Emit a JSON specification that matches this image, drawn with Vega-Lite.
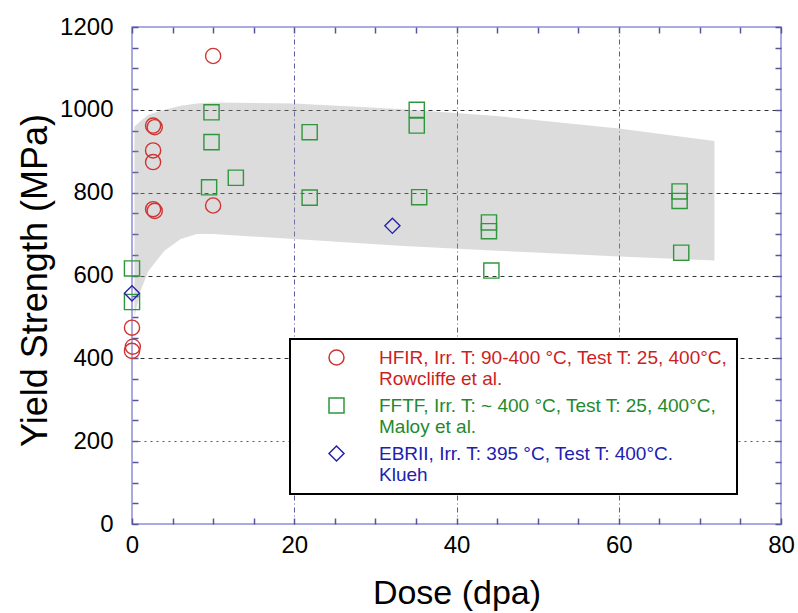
{
  "$schema": "https://vega.github.io/schema/vega-lite/v6.json",
  "width": 649,
  "height": 497,
  "autosize": "none",
  "padding": {"left": 132, "top": 27, "right": 17, "bottom": 89},
  "background": "white",
  "config": {
    "font": "Liberation Sans",
    "view": {"stroke": "#8f8fd6", "strokeWidth": 1.5},
    "legend": {"strokeWidth": 2},
    "axis": {"ticks": true, "tickSize": 6, "tickWidth": 1.5, "tickColor": "#55559a", "tickOpacity": 1}
  },
  "resolve": {"axis": {"x": "independent", "y": "independent"}},
  "layer": [
    {
      "data": {
        "values": [
          {"dose": 0.3, "upper": 960, "lower": 500},
          {"dose": 1, "upper": 972, "lower": 560},
          {"dose": 2, "upper": 988, "lower": 610},
          {"dose": 4, "upper": 1000, "lower": 660},
          {"dose": 6, "upper": 1010, "lower": 688},
          {"dose": 8, "upper": 1015, "lower": 700},
          {"dose": 10, "upper": 1018, "lower": 700},
          {"dose": 20, "upper": 1015, "lower": 688},
          {"dose": 33, "upper": 1002, "lower": 672},
          {"dose": 45, "upper": 985, "lower": 660},
          {"dose": 60, "upper": 955, "lower": 646},
          {"dose": 71.8, "upper": 925, "lower": 636}
        ]
      },
      "mark": {"type": "area", "color": "#999999", "opacity": 0.34},
      "encoding": {
        "x": {
          "field": "dose", "type": "quantitative",
          "scale": {"domain": [0, 80], "nice": false},
          "axis": {
            "orient": "top", "values": [0,5,10,15,20,25,30,35,40,45,50,55,60,65,70,75,80],
            "labels": false, "title": null, "grid": false, "domain": false, "offset": -6,
            "ticks": true, "tickSize": 6, "tickWidth": 1.5, "tickColor": "#55559a"
          }
        },
        "y": {
          "field": "upper", "type": "quantitative",
          "scale": {"domain": [0, 1200], "nice": false},
          "axis": {
            "orient": "right", "values": [0,50,100,150,200,250,300,350,400,450,500,550,600,650,700,750,800,850,900,950,1000,1050,1100,1150,1200],
            "labels": false, "title": null, "grid": false, "domain": false, "offset": -6,
            "ticks": true, "tickSize": 6, "tickWidth": 1.5, "tickColor": "#55559a"
          }
        },
        "y2": {"field": "lower"}
      }
    },
    {
      "data": {
        "values": [
          {"src": "HFIR", "dose": 10, "ys": 1130},
          {"src": "HFIR", "dose": 2.6, "ys": 962},
          {"src": "HFIR", "dose": 2.8, "ys": 958},
          {"src": "HFIR", "dose": 2.6, "ys": 902},
          {"src": "HFIR", "dose": 2.6, "ys": 874},
          {"src": "HFIR", "dose": 2.6, "ys": 760},
          {"src": "HFIR", "dose": 2.8, "ys": 756},
          {"src": "HFIR", "dose": 10, "ys": 769},
          {"src": "HFIR", "dose": 0, "ys": 474},
          {"src": "HFIR", "dose": 0.1, "ys": 428},
          {"src": "HFIR", "dose": 0, "ys": 418},
          {"src": "FFTF", "dose": 9.8, "ys": 994},
          {"src": "FFTF", "dose": 9.8, "ys": 922},
          {"src": "FFTF", "dose": 9.5, "ys": 813},
          {"src": "FFTF", "dose": 12.8, "ys": 836},
          {"src": "FFTF", "dose": 21.9, "ys": 946},
          {"src": "FFTF", "dose": 21.9, "ys": 788},
          {"src": "FFTF", "dose": 0, "ys": 617},
          {"src": "FFTF", "dose": 0, "ys": 536},
          {"src": "FFTF", "dose": 35.1, "ys": 1000},
          {"src": "FFTF", "dose": 35.1, "ys": 962},
          {"src": "FFTF", "dose": 35.4, "ys": 789},
          {"src": "FFTF", "dose": 44.0, "ys": 728},
          {"src": "FFTF", "dose": 44.0, "ys": 707},
          {"src": "FFTF", "dose": 44.3, "ys": 612},
          {"src": "FFTF", "dose": 67.5, "ys": 803},
          {"src": "FFTF", "dose": 67.5, "ys": 780},
          {"src": "FFTF", "dose": 67.7, "ys": 655},
          {"src": "EBRII", "dose": 32.1, "ys": 720},
          {"src": "EBRII", "dose": 0, "ys": 557}
        ]
      },
      "mark": {"type": "point", "filled": false, "strokeWidth": 1.4, "size": 230, "opacity": 1},
      "encoding": {
        "x": {
          "field": "dose", "type": "quantitative",
          "scale": {"domain": [0, 80], "nice": false},
          "axis": {
            "orient": "bottom", "values": [0,5,10,15,20,25,30,35,40,45,50,55,60,65,70,75,80],
            "labelExpr": "datum.value % 20 === 0 ? datum.label : ''",
            "labelFontSize": 24, "labelColor": "black", "labelPadding": 9, "labelFlush": false, "labelOverlap": false,
            "domain": false, "offset": -6,
            "ticks": true, "tickSize": 6, "tickWidth": 1.5, "tickColor": "#55559a",
            "grid": true, "gridColor": "#5c5ca6", "gridDash": [5, 3, 1, 3],
            "gridOpacity": {"condition": {"test": "datum.value % 20 === 0 && datum.value > 0 && datum.value < 80", "value": 1}, "value": 0},
            "title": "Dose (dpa)", "titleFontSize": 34, "titleFontWeight": "normal", "titleColor": "black",
            "titleX": 324.5, "titleY": 85, "titleBaseline": "alphabetic", "titleAlign": "center"
          }
        },
        "y": {
          "field": "ys", "type": "quantitative",
          "scale": {"domain": [0, 1200], "nice": false},
          "axis": {
            "orient": "left", "values": [0,50,100,150,200,250,300,350,400,450,500,550,600,650,700,750,800,850,900,950,1000,1050,1100,1150,1200],
            "format": "d",
            "labelExpr": "datum.value % 200 === 0 ? datum.label : ''",
            "labelFontSize": 24, "labelColor": "black", "labelPadding": 19, "labelOverlap": false,
            "domain": false, "offset": -6,
            "ticks": true, "tickSize": 6, "tickWidth": 1.5, "tickColor": "#55559a",
            "grid": true,
            "gridColor": {"condition": {"test": "datum.value === 200", "value": "#4a4af0"}, "value": "#333333"},
            "gridDash": {"condition": {"test": "datum.value === 200", "value": [2, 4]}, "value": [4, 4]},
            "gridOpacity": {"condition": {"test": "datum.value % 200 === 0 && datum.value > 0 && datum.value < 1200", "value": 1}, "value": 0},
            "title": "Yield Strength (MPa)", "titleFontSize": 36, "titleFontWeight": "normal", "titleColor": "black",
            "titleX": -103, "titleY": 253, "titleBaseline": "middle", "titleAngle": -90, "titleAlign": "center"
          }
        },
        "color": {
          "field": "src", "type": "nominal",
          "scale": {"domain": ["HFIR", "FFTF", "EBRII"], "range": ["#d03434", "#2e973c", "#2424a8"]},
          "legend": {
            "orient": "none", "legendX": 158, "legendY": 312, "title": null,
            "labelFontSize": 19, "labelLimit": 600,
            "labelColor": {"expr": "datum.value === 'HFIR' ? '#cc1f1f' : datum.value === 'FFTF' ? '#1e8a2e' : '#2020b0'"},
            "labelExpr": "datum.label === 'HFIR' ? ['HFIR, Irr. T: 90-400 °C, Test T: 25, 400°C,', 'Rowcliffe et al.'] : datum.label === 'FFTF' ? ['FFTF, Irr. T: ~ 400 °C, Test T: 25, 400°C,', 'Maloy et al.'] : ['EBRII, Irr. T: 395 °C, Test T: 400°C.', 'Klueh']",
            "symbolOffset": 28, "labelOffset": 33, "padding": 9, "rowPadding": 6,
            "strokeColor": "black", "fillColor": "white",
            "symbolSize": 225, "symbolStrokeWidth": 1.5, "symbolOpacity": 1
          }
        },
        "shape": {
          "field": "src", "type": "nominal",
          "scale": {"domain": ["HFIR", "FFTF", "EBRII"], "range": ["circle", "square", "diamond"]},
          "legend": {
            "orient": "none", "legendX": 158, "legendY": 312, "title": null,
            "labelFontSize": 19, "labelLimit": 600,
            "labelColor": {"expr": "datum.value === 'HFIR' ? '#cc1f1f' : datum.value === 'FFTF' ? '#1e8a2e' : '#2020b0'"},
            "labelExpr": "datum.label === 'HFIR' ? ['HFIR, Irr. T: 90-400 °C, Test T: 25, 400°C,', 'Rowcliffe et al.'] : datum.label === 'FFTF' ? ['FFTF, Irr. T: ~ 400 °C, Test T: 25, 400°C,', 'Maloy et al.'] : ['EBRII, Irr. T: 395 °C, Test T: 400°C.', 'Klueh']",
            "symbolOffset": 28, "labelOffset": 33, "padding": 9, "rowPadding": 6,
            "strokeColor": "black", "fillColor": "white",
            "symbolSize": 225, "symbolStrokeWidth": 1.5, "symbolOpacity": 1
          }
        }
      }
    }
  ]
}
